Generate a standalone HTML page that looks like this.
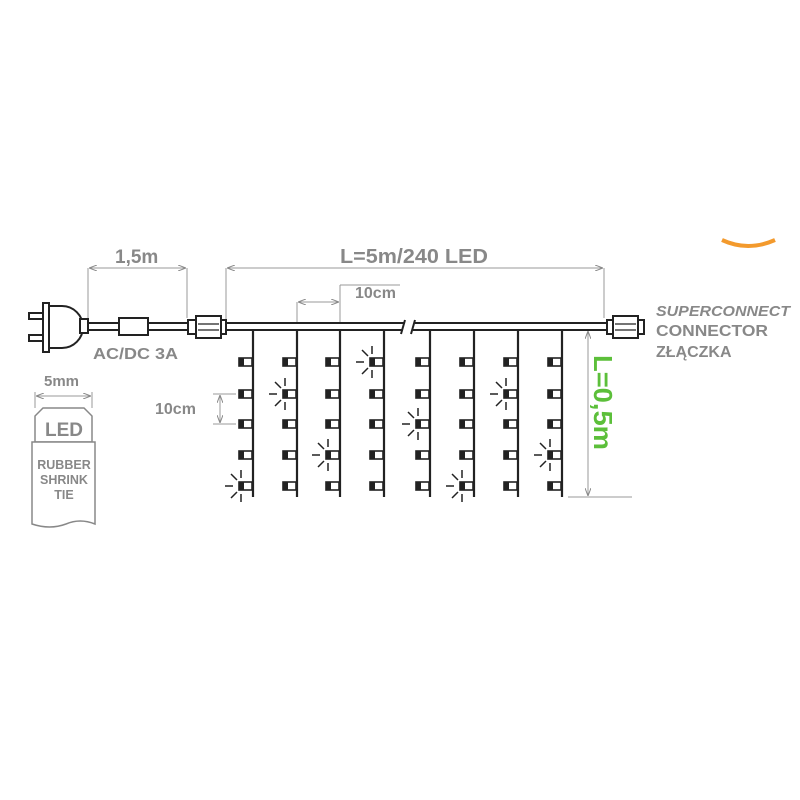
<!DOCTYPE html>
<html><head><style>
html,body{margin:0;padding:0;background:#fff;width:800px;height:800px;overflow:hidden}
svg text{font-family:"Liberation Sans",sans-serif;font-weight:bold}
</style></head><body>
<svg width="800" height="800" viewBox="0 0 800 800" xmlns="http://www.w3.org/2000/svg">
<defs>
<marker id="a" markerWidth="8" markerHeight="6" refX="8" refY="3" orient="auto" markerUnits="userSpaceOnUse"><path d="M0,0 L8,3 L0,6" fill="none" stroke="#888" stroke-width="1"/></marker>
<marker id="b" markerWidth="8" markerHeight="6" refX="0" refY="3" orient="auto" markerUnits="userSpaceOnUse"><path d="M8,0 L0,3 L8,6" fill="none" stroke="#888" stroke-width="1"/></marker>
<g id="led"><rect x="-14" y="-4" width="13" height="8" fill="#fff" stroke="#222" stroke-width="1.6"/><rect x="-14" y="-4" width="5" height="8" fill="#222"/></g>
<g id="fl" stroke="#222" stroke-width="1.5"><line x1="-20" y1="0" x2="-28" y2="0"/><line x1="-16" y1="-6" x2="-22" y2="-12"/><line x1="-16" y1="6" x2="-22" y2="12"/><line x1="-12" y1="-8" x2="-12" y2="-16"/><line x1="-12" y1="8" x2="-12" y2="16"/></g>
</defs>
<path d="M722,240 Q748,252 775,240" fill="none" stroke="#f39a2d" stroke-width="4"/>
<g fill="#888">
<text x="115" y="263" font-size="19">1,5m</text>
<text x="340" y="263" font-size="20" textLength="148" lengthAdjust="spacingAndGlyphs">L=5m/240 LED</text>
<text x="355" y="298" font-size="16">10cm</text>
<text x="93" y="359" font-size="16" textLength="85" lengthAdjust="spacingAndGlyphs">AC/DC 3A</text>
<text x="44" y="386" font-size="15">5mm</text>
<text x="155" y="414" font-size="16">10cm</text>
<text x="656" y="316" font-size="15" font-style="italic" textLength="134" lengthAdjust="spacingAndGlyphs">SUPERCONNECT</text>
<text x="656" y="336" font-size="16" textLength="112" lengthAdjust="spacingAndGlyphs">CONNECTOR</text>
<text x="656" y="357" font-size="16">ZŁĄCZKA</text>
</g>
<text x="0" y="0" font-size="26" fill="#5cbf3a" transform="translate(594,355) rotate(90)" textLength="95" lengthAdjust="spacingAndGlyphs">L=0,5m</text>
<g stroke="#999" stroke-width="1" fill="none">
<line x1="88" y1="268" x2="88" y2="322"/><line x1="187" y1="268" x2="187" y2="318"/>
<line x1="89" y1="268" x2="186" y2="268" marker-start="url(#b)" marker-end="url(#a)"/>
<line x1="226" y1="268" x2="226" y2="322"/><line x1="604" y1="268" x2="604" y2="318"/>
<line x1="227" y1="268" x2="603" y2="268" marker-start="url(#b)" marker-end="url(#a)"/>
<line x1="297" y1="302" x2="297" y2="322"/><line x1="340" y1="285" x2="340" y2="322"/>
<line x1="298" y1="302" x2="339" y2="302" marker-start="url(#b)" marker-end="url(#a)"/>
<line x1="340" y1="285" x2="400" y2="285"/>
<line x1="588" y1="331" x2="588" y2="496" marker-start="url(#b)" marker-end="url(#a)"/>
<line x1="568" y1="497" x2="632" y2="497"/>
<line x1="213" y1="394" x2="236" y2="394"/><line x1="213" y1="424" x2="236" y2="424"/>
<line x1="220" y1="395" x2="220" y2="423" marker-start="url(#b)" marker-end="url(#a)"/>
<line x1="35" y1="392" x2="35" y2="408"/><line x1="92" y1="392" x2="92" y2="408"/>
<line x1="36" y1="396" x2="91" y2="396" marker-start="url(#b)" marker-end="url(#a)"/>
</g>
<g stroke="#222" stroke-width="2" fill="#fff">
<rect x="29" y="313" width="15" height="6"/><rect x="29" y="335" width="15" height="6"/>
<rect x="43" y="303" width="6" height="49"/>
<path d="M49,306 H62 A21,21 0 0 1 62,348 H49 Z"/>
<rect x="80" y="319" width="8" height="14"/>
<line x1="88" y1="323" x2="405" y2="323"/><line x1="88" y1="330" x2="403" y2="330"/>
<line x1="415" y1="323" x2="607" y2="323"/><line x1="413" y1="330" x2="607" y2="330"/>
<line x1="405" y1="320" x2="401" y2="334"/><line x1="415" y1="320" x2="411" y2="334"/>
<rect x="119" y="318" width="29" height="17"/>
<rect x="188" y="320" width="8" height="14"/><rect x="196" y="316" width="25" height="22"/><rect x="221" y="320" width="5" height="14"/>
<line x1="198" y1="324" x2="219" y2="324" stroke-width="1.2"/><line x1="198" y1="330" x2="219" y2="330" stroke-width="1.2"/>
<rect x="607" y="320" width="6" height="14"/><rect x="613" y="316" width="25" height="22"/><rect x="638" y="320" width="6" height="14"/>
<line x1="615" y1="324" x2="636" y2="324" stroke-width="1.2"/><line x1="615" y1="330" x2="636" y2="330" stroke-width="1.2"/>
<path d="M35,442 V416 L43,408 H84 L92,416 V442 Z" stroke="#888" stroke-width="1.5"/>
<path d="M32,442 H95 V524 Q80,518 66,524 Q50,530 32,524 Z" stroke="#888" stroke-width="1.5"/>
</g>
<g fill="#888"><text x="45" y="436" font-size="19">LED</text></g>
<g fill="#888" font-size="12.5" text-anchor="middle"><text x="64" y="469">RUBBER</text><text x="64" y="484">SHRINK</text><text x="64" y="499">TIE</text></g>
<g stroke="#222" stroke-width="2.2">
<line x1="253" y1="330" x2="253" y2="497"/><line x1="297" y1="330" x2="297" y2="497"/><line x1="340" y1="330" x2="340" y2="497"/><line x1="384" y1="330" x2="384" y2="497"/>
<line x1="430" y1="330" x2="430" y2="497"/><line x1="474" y1="330" x2="474" y2="497"/><line x1="518" y1="330" x2="518" y2="497"/><line x1="562" y1="330" x2="562" y2="497"/>
</g>
<g id="col"><use href="#led" y="362"/><use href="#led" y="394"/><use href="#led" y="424"/><use href="#led" y="455"/><use href="#led" y="486"/></g>
<use href="#col" x="253"/><use href="#col" x="297"/><use href="#col" x="340"/><use href="#col" x="384"/>
<use href="#col" x="430"/><use href="#col" x="474"/><use href="#col" x="518"/><use href="#col" x="562"/>
<use href="#fl" x="253" y="486"/><use href="#fl" x="297" y="394"/><use href="#fl" x="340" y="455"/><use href="#fl" x="384" y="362"/>
<use href="#fl" x="430" y="424"/><use href="#fl" x="474" y="486"/><use href="#fl" x="518" y="394"/><use href="#fl" x="562" y="455"/>
</svg>
</body></html>
